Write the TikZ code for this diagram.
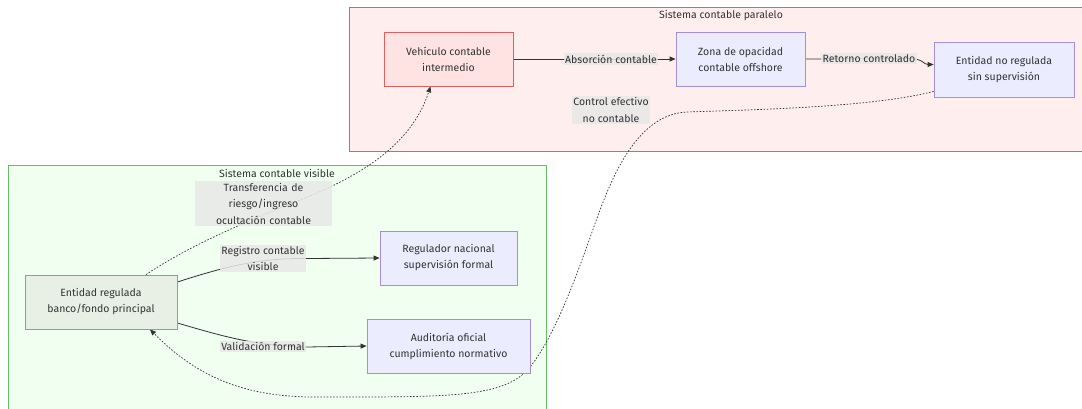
\documentclass[tikz,border=0pt]{standalone}
\usepackage{fontspec}
\setmainfont{Fira Sans}
\usetikzlibrary{arrows.meta}

\definecolor{ink}{HTML}{333333}
\definecolor{edgeink}{HTML}{333333}
\definecolor{redzone}{HTML}{FFEEEE}
\definecolor{redline}{HTML}{E06060}
\definecolor{redbox}{HTML}{FFE2E2}
\definecolor{greenzone}{HTML}{F0FFF0}
\definecolor{greenline}{HTML}{66BB66}
\definecolor{greenbox}{HTML}{E8F0E6}
\definecolor{purplebox}{HTML}{ECECFF}
\definecolor{purpleline}{HTML}{A58DE0}
\definecolor{labelbg}{HTML}{E8E8E8}

\pgfdeclarelayer{back}
\pgfdeclarelayer{edges}
\pgfdeclarelayer{labels}
\pgfsetlayers{back,edges,labels,main}

\tikzset{
  txt/.style={font=\fontsize{10.5}{16}\selectfont, text=ink, align=center},
  box/.style={txt, draw, line width=0.8pt, rectangle, inner sep=0pt},
  purplenode/.style={box, fill=purplebox, draw=purpleline},
  rednode/.style={box, fill=redbox, draw=redline},
  greennode/.style={box, fill=greenbox, draw=greenline},
  edgelabel/.style={txt, font=\fontsize{10.5}{16.5}\selectfont, fill=labelbg, fill opacity=0.85, text opacity=1, inner xsep=1.5pt, inner ysep=1.5pt},
  zonetitle/.style={txt, inner sep=0pt},
  link/.style={draw=edgeink, line width=0.8pt, -{Triangle[length=6pt,width=5pt]}},
  dottedlink/.style={draw=edgeink, line width=0.7pt, dash pattern=on 1.6pt off 1.6pt, -{Triangle[length=6pt,width=5pt]}}
}

\begin{document}
\begin{tikzpicture}[x=1pt, y=-1pt]
\useasboundingbox (0,0) rectangle (1082,408);

% clusters
\begin{pgfonlayer}{back}
  \fill[white] (0,0) rectangle (1082,408);
  \draw[fill=redzone, draw=redline, line width=0.8pt] (349,7) rectangle (1090,151);
  \draw[fill=greenzone, draw=greenline, line width=0.8pt] (8,165) rectangle (546,415);
\end{pgfonlayer}
\node[zonetitle] (tpar) at (721,16) {Sistema contable paralelo};
\node[zonetitle] (tvis) at (277,173) {Sistema contable visible};

% nodes
\node[rednode, minimum width=129pt, minimum height=54pt] (veh) at (448.5,59) {Vehículo contable\\intermedio};
\node[purplenode, minimum width=129pt, minimum height=54pt] (zona) at (740.5,59) {Zona de opacidad\\contable offshore};
\node[purplenode, minimum width=140pt, minimum height=55pt] (enr) at (1004,69.5) {Entidad no regulada\\sin supervisión};
\node[greennode, minimum width=152pt, minimum height=54pt] (er) at (101,302) {Entidad regulada\\banco/fondo principal};
\node[purplenode, minimum width=137pt, minimum height=54pt] (reg) at (448.5,258) {Regulador nacional\\supervisión formal};
\node[purplenode, minimum width=163pt, minimum height=54pt] (aud) at (448.5,346) {Auditoría oficial\\cumplimiento normativo};

% edge labels
\begin{pgfonlayer}{labels}
  \node[edgelabel] (labs) at (611,59) {Absorción contable};
  \node[edgelabel] (lret) at (869,58.5) {Retorno controlado};
  \node[edgelabel] (lctl) at (611,110) {Control efectivo\\no contable};
  \node[edgelabel, text width=134pt] (ltra) at (263.5,203.5) {Transferencia de\\riesgo/ingreso\\ocultación contable};
  \node[edgelabel] (lreg) at (263,258.5) {Registro contable\\visible};
  \node[edgelabel] (lval) at (263,346.5) {Validación formal};
\end{pgfonlayer}

% connectors
\begin{pgfonlayer}{edges}
  \draw[link] (veh.east) -- (zona.west);
  \draw[link] (zona.east) -- ([xshift=-8pt]lret.east)
     .. controls ([xshift=6pt]lret.east) and ([xshift=-10pt,yshift=5pt]enr.west) .. ([yshift=5pt]enr.west);
  \draw[link] ([yshift=20pt]er.east) .. controls (230,265) and (262,258) .. (lreg.east) -- (reg.west);
  \draw[link] ([yshift=-21pt]er.east) .. controls (222,336) and (255,346) .. ([yshift=-0.5pt]lval.east) -- (aud.west);
  \draw[dottedlink] ([xshift=45pt]er.north) .. controls (190,245) and (250,220) .. (300,200)
     .. controls (350,180) and (410,150) .. ([xshift=-18pt]veh.south);
  \draw[dottedlink] ([yshift=6pt]enr.south west) .. controls (870,108) and (740,110) .. (687,112)
     .. controls (640,114) and (615,170) .. (600,210)
     .. controls (585,250) and (560,330) .. (530,367)
     .. controls (505,398) and (450,397) .. (321,397)
     .. controls (250,398) and (200,380) .. ([xshift=49pt]er.south);
\end{pgfonlayer}
\end{tikzpicture}
\end{document}
